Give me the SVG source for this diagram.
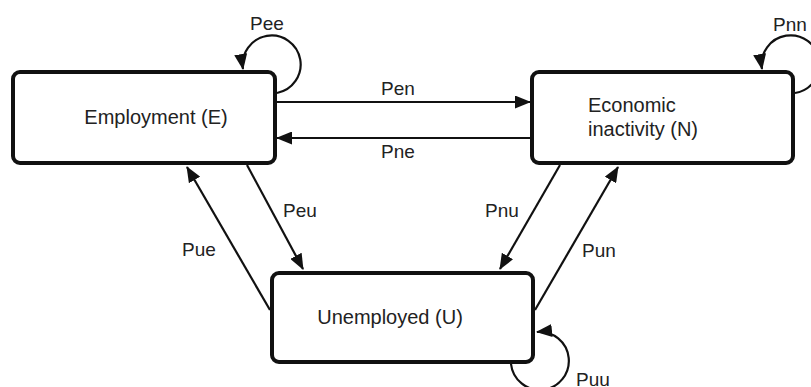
<svg xmlns="http://www.w3.org/2000/svg" width="811" height="387" viewBox="0 0 811 387">
<style>
.node{fill:#fff;stroke:#111;stroke-width:4}
.nt{font-family:"Liberation Sans",Arial,sans-serif;font-size:20px;fill:#222}
.lb{font-family:"Liberation Sans",Arial,sans-serif;font-size:19px;fill:#222;text-anchor:middle}
.c{fill:none;stroke:#111;stroke-width:2.2;marker-end:url(#ah)}
</style>
<defs>
<marker id="ah" markerUnits="userSpaceOnUse" markerWidth="16" markerHeight="13" refX="15" refY="6.5" orient="auto">
<path d="M0,0 L16,6.5 L0,13 Z" fill="#111"/>
</marker>
</defs>
<rect width="811" height="387" fill="#fff"/>
<g id="connectors">
<path class="c" d="M277,102 L530,102"/>
<path class="c" d="M530,138 L277,138"/>
<path class="c" d="M247,165 L303,269"/>
<path class="c" d="M560,165 L500,269"/>
<path class="c" d="M270,310 L187,167"/>
<path class="c" d="M535,310 L618,167"/>
<path class="c" d="M277,93 A29,29 0 1 0 243,69"/>
<path class="c" d="M795,93 A29,29 0 1 0 762,69"/>
<path class="c" d="M511,364 A29,29 0 1 0 537,332"/>
<text class="lb" x="267" y="30">Pee</text>
<text class="lb" x="790" y="31">Pnn</text>
<text class="lb" x="398" y="95">Pen</text>
<text class="lb" x="398" y="158">Pne</text>
<text class="lb" x="300" y="217">Peu</text>
<text class="lb" x="502" y="217">Pnu</text>
<text class="lb" x="199" y="256">Pue</text>
<text class="lb" x="599" y="257">Pun</text>
<text class="lb" x="593" y="386">Puu</text>
</g>
<g id="E">
<rect class="node" x="13" y="72" width="262" height="91" rx="7"/>
<text class="nt" x="156" y="124" text-anchor="middle">Employment (E)</text>
</g>
<g id="N">
<rect class="node" x="532" y="72" width="261" height="91" rx="7"/>
<text class="nt" x="588" y="112">Economic</text>
<text class="nt" x="588" y="136">inactivity (N)</text>
</g>
<g id="U">
<rect class="node" x="272" y="273" width="261" height="89" rx="7"/>
<text class="nt" x="390" y="324" text-anchor="middle">Unemployed (U)</text>
</g>
</svg>
